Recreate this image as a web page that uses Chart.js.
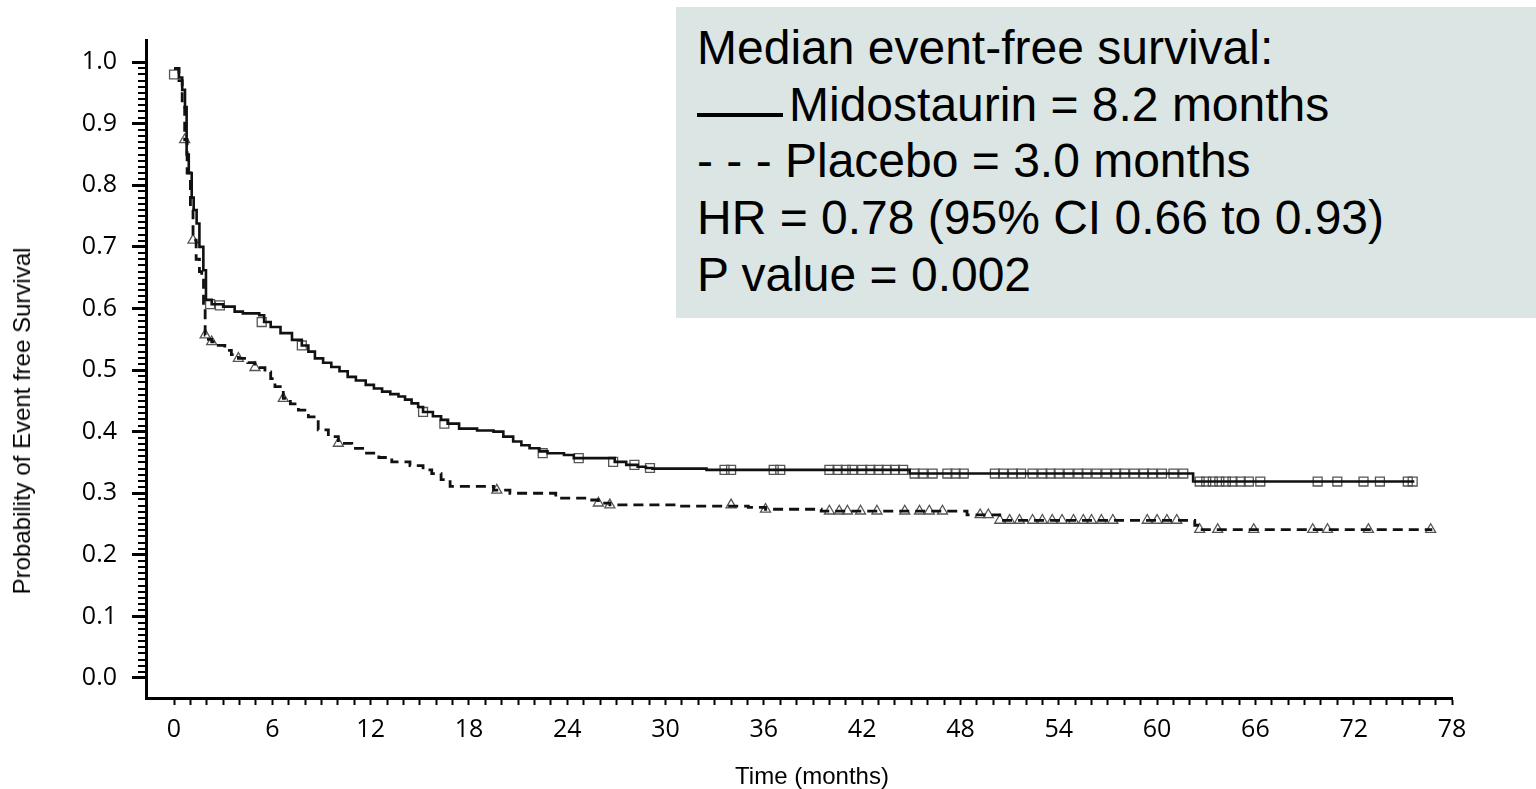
<!DOCTYPE html>
<html>
<head>
<meta charset="utf-8">
<script src="https://cdn.jsdelivr.net/npm/chart.js@4.4.1/dist/chart.umd.min.js"></script>
<style>
html,body{margin:0;padding:0;background:#fff;}
#wrap{position:relative;width:1536px;height:789px;overflow:hidden;background:#fff;}
#c{position:absolute;left:0;top:0;}
#note{position:absolute;left:676px;top:7px;width:860px;height:311px;background:#dae5e4;font-family:'Liberation Sans',Arial,sans-serif;font-size:48px;color:#000;}
.ln{position:absolute;left:21px;white-space:nowrap;line-height:48px;}
#legline{position:absolute;left:21px;top:106px;width:86px;height:4px;background:#000;}
.axt{position:absolute;font-family:'Liberation Sans',Arial,sans-serif;font-size:24px;color:#000;white-space:nowrap;}
#xt{left:812px;top:776px;transform:translate(-50%,-50%);}
#yt{left:22px;top:421px;transform:translate(-50%,-50%) rotate(-90deg);}
</style>
</head>
<body>
<div id="wrap">
<canvas id="c" width="1536" height="789"></canvas>
<div id="note">
  <div class="ln" style="top:17px">Median event-free survival:</div>
  <div id="legline"></div>
  <div class="ln" style="top:74px;left:113px">Midostaurin = 8.2 months</div>
  <div class="ln" style="top:130px">- - - Placebo = 3.0 months</div>
  <div class="ln" style="top:187px">HR = 0.78 (95% CI 0.66 to 0.93)</div>
  <div class="ln" style="top:244px">P value = 0.002</div>
</div>
<div class="axt" id="xt">Time (months)</div>
<div class="axt" id="yt">Probability of Event free Survival</div>
</div>
<script>
// ---- tick values / labels ----
const xTickLabels = ['0','6','12','18','24','30','36','42','48','54','60','66','72','78'];
const yTickLabels = ['0.0','0.1','0.2','0.3','0.4','0.5','0.6','0.7','0.8','0.9','1.0'];

// ---- Midostaurin KM curve (time in months, survival probability) ----
const midoT = [0, 0.3, 0.5, 0.67, 0.77, 0.9, 1.08, 1.2, 1.38, 1.55,
  1.79, 1.95, 2.3, 3.0, 3.7, 4.2, 5.2, 5.5, 5.9, 6.5,
  7.2, 7.8, 8.2, 8.6, 9.1, 9.6, 10.1, 10.6, 11.1, 11.7,
  12.2, 12.7, 13.2, 13.7, 14.1, 14.5, 14.9, 15.2, 15.8, 16.3,
  16.7, 17.4, 18.5, 19.5, 20.1, 20.7, 21.2, 21.7, 22.3, 22.8,
  23.8, 24.4, 26.9, 27.6, 28.3, 28.8, 29.2, 32.5, 44.9, 62.2, 75.7];
const midoS = [0.99, 0.975, 0.955, 0.927, 0.85, 0.82, 0.78, 0.76, 0.738, 0.70,
  0.662, 0.614, 0.607, 0.603, 0.595, 0.592, 0.589, 0.578, 0.57, 0.56,
  0.549, 0.54, 0.53, 0.519, 0.512, 0.505, 0.498, 0.489, 0.483, 0.476,
  0.47, 0.465, 0.461, 0.457, 0.452, 0.446, 0.44, 0.432, 0.425, 0.419,
  0.413, 0.405, 0.402, 0.40, 0.392, 0.384, 0.378, 0.373, 0.368, 0.365,
  0.362, 0.357, 0.351, 0.346, 0.343, 0.341, 0.340, 0.338, 0.332, 0.319, 0.319];

// ---- Placebo KM curve ----
const placT = [0, 0.3, 0.5, 0.65, 0.8, 1.0, 1.16, 1.35, 1.55, 1.69,
  1.8, 1.9, 2.1, 2.3, 2.7, 3.1, 3.5, 3.93, 4.5, 4.94,
  5.55, 5.9, 6.16, 6.67, 7.1, 7.59, 8.2, 8.8, 9.42, 10.03,
  10.85, 11.66, 12.5, 13.29, 14.4, 15.2, 15.73, 16.3, 16.85, 19.5, 20.5,
  23.3, 25.4, 25.9, 26.6, 30.7, 35.05, 36.1, 39.5, 48.4, 50.4,
  62.3, 62.6, 76.8];
const placS = [0.99, 0.97, 0.93, 0.874, 0.82, 0.76, 0.711, 0.68, 0.66, 0.646,
  0.60, 0.557, 0.55, 0.546, 0.54, 0.532, 0.525, 0.519, 0.512, 0.504,
  0.497, 0.486, 0.473, 0.454, 0.445, 0.435, 0.424, 0.403, 0.392, 0.381,
  0.373, 0.365, 0.358, 0.351, 0.345, 0.338, 0.332, 0.322, 0.311, 0.305, 0.30,
  0.292, 0.289, 0.284, 0.281, 0.279, 0.277, 0.274, 0.271, 0.265, 0.256,
  0.248, 0.241, 0.241];

// ---- censoring marks ----
const midoCensT = [0, 2.2, 2.8, 5.35, 7.8, 15.2, 16.5, 22.5, 24.7, 26.8, 28.1, 29.05,
  33.6, 34.0, 36.6, 37.0, 40.0, 40.5, 41.0, 41.4, 42.0, 42.5, 43.0, 43.5, 44.0, 44.5,
  45.2, 45.7, 46.3, 47.2, 47.7, 48.2,
  50.1, 50.6, 51.2, 51.7, 52.4, 53.0, 53.5, 54.0, 54.6, 55.2, 55.7, 56.3, 56.9, 57.5, 58.0, 58.6, 59.2, 59.7, 60.3, 61.0, 61.6,
  62.6, 63.0, 63.4, 63.8, 64.2, 64.6, 65.1, 65.6, 66.3, 69.8, 71.0, 72.6, 73.6, 75.3, 75.6];
const midoCensS = [0.98, 0.607, 0.605, 0.578, 0.54, 0.432, 0.413, 0.365, 0.357, 0.351, 0.346, 0.341,
  0.338, 0.338, 0.338, 0.338, 0.338, 0.338, 0.338, 0.338, 0.338, 0.338, 0.338, 0.338, 0.338, 0.338,
  0.332, 0.332, 0.332, 0.332, 0.332, 0.332,
  0.332, 0.332, 0.332, 0.332, 0.332, 0.332, 0.332, 0.332, 0.332, 0.332, 0.332, 0.332, 0.332, 0.332, 0.332, 0.332, 0.332, 0.332, 0.332, 0.332, 0.332,
  0.319, 0.319, 0.319, 0.319, 0.319, 0.319, 0.319, 0.319, 0.319, 0.319, 0.319, 0.319, 0.319, 0.319, 0.319];
const placCensT = [0.65, 1.16, 1.9, 2.3, 3.93, 4.94, 6.67, 10.03, 19.7, 25.9, 26.6, 34.0, 36.1,
  40.0, 40.6, 41.1, 41.9, 42.9, 44.6, 45.5, 46.1, 46.9,
  49.2, 49.7,
  50.4, 51.0, 51.6, 52.4, 53.0, 53.6, 54.2, 54.9, 55.5, 56.0, 56.6, 57.3, 59.4, 60.0, 60.6, 61.2,
  62.6, 63.7, 65.9, 69.5, 70.4, 72.9, 76.7];
const placCensS = [0.874, 0.711, 0.557, 0.546, 0.519, 0.504, 0.454, 0.381, 0.305, 0.284, 0.281, 0.281, 0.274,
  0.271, 0.271, 0.271, 0.271, 0.271, 0.271, 0.271, 0.271, 0.271,
  0.265, 0.265,
  0.256, 0.256, 0.256, 0.256, 0.256, 0.256, 0.256, 0.256, 0.256, 0.256, 0.256, 0.256, 0.256, 0.256, 0.256, 0.256,
  0.241, 0.241, 0.241, 0.241, 0.241, 0.241, 0.241];

const pts = (t, s) => t.map((v, i) => ({x: v, y: s[i]}));

// every month a tick mark on x; every 0.01 a minor tick on y
const xMonthTicks = [];
for (let m = 0; m <= 78; m++) xMonthTicks.push(m);
const yMinorTicks = [];
for (let k = 1; k < 100; k++) if (k % 10 !== 0) yMinorTicks.push(k / 100);

const minorTickPlugin = {
  id: 'minorTicks',
  afterDraw(chart) {
    const ys = chart.scales.y, ctx = chart.ctx;
    ctx.save();
    ctx.strokeStyle = '#000';
    ctx.lineWidth = 2;
    for (const v of yMinorTicks) {
      const py = Math.round(ys.getPixelForValue(v));
      ctx.beginPath();
      ctx.moveTo(ys.right - 8, py);
      ctx.lineTo(ys.right, py);
      ctx.stroke();
    }
    ctx.restore();
  }
};

const tickFont = {family: "'Open Sans', 'Noto Sans', sans-serif", size: 25};

new Chart(document.getElementById('c'), {
  type: 'line',
  data: {
    datasets: [
      {label: 'Midostaurin', data: pts(midoT, midoS), stepped: true, borderColor: '#111', borderWidth: 2.6, pointRadius: 0, fill: false},
      {label: 'Placebo', data: pts(placT, placS), stepped: true, borderColor: '#111', borderWidth: 2.8, borderDash: [10, 6], pointRadius: 0, fill: false},
      {type: 'scatter', label: 'Midostaurin censored', data: pts(midoCensT, midoCensS), pointStyle: 'rect', pointRadius: 6.3, borderColor: '#555', borderWidth: 1.3, backgroundColor: 'rgba(255,255,255,0)'},
      {type: 'scatter', label: 'Placebo censored', data: pts(placCensT, placCensS), pointStyle: 'triangle', pointRadius: 5.8, borderColor: '#555', borderWidth: 1.3, backgroundColor: 'rgba(255,255,255,0)'}
    ]
  },
  options: {
    responsive: false,
    animation: false,
    events: [],
    layout: {padding: {left: 0, right: 84, top: 40, bottom: 0}},
    plugins: {legend: {display: false}, tooltip: {enabled: false}},
    scales: {
      x: {
        type: 'linear', min: -1.71, max: 78,
        afterBuildTicks: s => { s.ticks = xMonthTicks.map(v => ({value: v})); },
        afterFit: s => { s.height = 91; },
        ticks: {autoSkip: false, maxRotation: 0, minRotation: 0, padding: 10, color: '#000', font: tickFont,
          callback: v => xTickLabels.includes(String(v)) ? String(v) : ''},
        grid: {drawOnChartArea: false, drawTicks: true, tickLength: 7, tickWidth: 2, tickColor: '#000'},
        border: {display: true, color: '#000', width: 3}
      },
      y: {
        type: 'linear', min: -0.0325, max: 1.036,
        afterBuildTicks: s => { s.ticks = yTickLabels.map(l => ({value: parseFloat(l)})); },
        afterFit: s => { s.width = 146; },
        ticks: {padding: 15, color: '#000', font: tickFont,
          callback: v => yTickLabels.find(l => Math.abs(parseFloat(l) - v) < 1e-9) || ''},
        grid: {drawOnChartArea: false, drawTicks: true, tickLength: 14, tickWidth: 3, tickColor: '#000'},
        border: {display: true, color: '#000', width: 3}
      }
    }
  },
  plugins: [minorTickPlugin]
});
</script>
</body>
</html>
